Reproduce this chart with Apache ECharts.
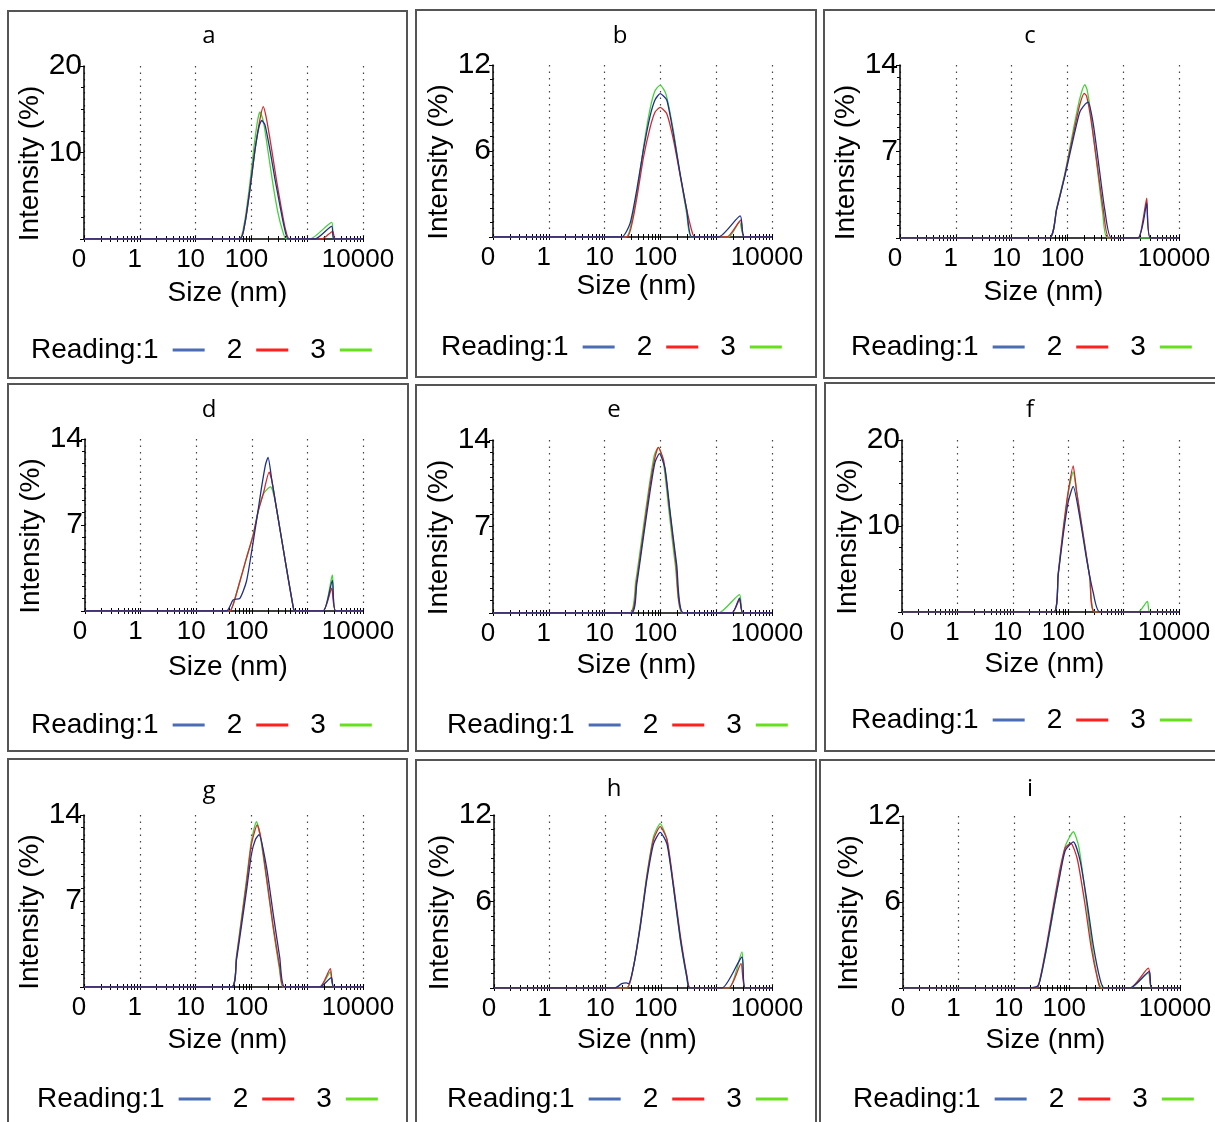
<!DOCTYPE html>
<html><head><meta charset="utf-8">
<script src="https://cdn.jsdelivr.net/npm/echarts@6/dist/echarts.min.js"></script>
<style>html,body{margin:0;padding:0;background:#fff}#c{width:1215px;height:1122px}</style>
</head><body><div id="c"></div><script>
// ---------------- DATA ----------------
const PANEL_TITLES = ['a','b','c','d','e','f','g','h','i'];
const Y_MAX = [20,12,14,14,14,20,14,12,12];
const Y_MINOR_SPLIT = [4,6,7,7,7,4,7,6,6];
const X_TICK_LABELS = ['0','1','10','100','','10000'];   // at 0.1, 1, 10, 100, 1000, 10000 nm
const X_TICKS = [0.1,0.2,0.3,0.4,0.5,0.6,0.7,0.8,0.9,1,2,3,4,5,6,7,8,9,10,20,30,40,50,60,70,80,90,100,
  200,300,400,500,600,700,800,900,1000,2000,3000,4000,5000,6000,7000,8000,9000,10000];
const READINGS = ['1','2','3'];

const A_R1 = [[0.1,0],[62,0],[77,1.9],[94,5.7],[116,10.3],[137,13.0],[153,13.7],[175,13.2],[215,10.3],[265,6.9],[326,3.8],[384,1.5],[460,0],[1380,0],[2750,1.47],[3020,0],[10000,0]];
const A_R2 = [[0.1,0],[62,0],[77,1.9],[94,5.7],[116,10.3],[140,13.6],[163,15.3],[185,14.0],[225,10.8],[280,6.9],[345,3.5],[405,1.2],[480,0],[1820,0],[2870,0.89],[3150,0],[10000,0]];
const A_R3 = [[0.1,0],[60,0],[75,1.9],[92,6.0],[113,11.0],[130,13.8],[143,14.7],[165,13.5],[200,10.0],[245,6.2],[300,3.0],[360,1.0],[420,0],[1120,0],[2750,1.93],[3020,0],[10000,0]];

const B_R1 = [[0.1,0],[20,0],[28.5,0.93],[37.6,3.26],[49.5,6.06],[65,8.4],[80,9.56],[99,10.0],[130,9.56],[171,7.2],[226,4.4],[297,1.86],[366,0],[1100,0],[2700,1.47],[3180,0],[10000,0]];
const B_R2 = [[0.1,0],[24.8,0],[32,1.2],[40,3.3],[50,5.6],[65,7.6],[80,8.7],[99,9.04],[130,8.6],[171,6.8],[226,4.3],[297,1.9],[380,0.2],[420,0],[1556,0],[2750,1.17],[3180,0],[10000,0]];
const B_R3 = [[0.1,0],[24,0],[32,1.5],[40,3.6],[50,6.3],[65,8.9],[80,10.2],[99,10.6],[125,10.0],[171,7.4],[226,4.3],[297,1.6],[360,0],[1667,0],[2620,1.05],[3180,0],[10000,0]];

const C_R1 = [[0.1,0],[47,0],[64,2.3],[90,5.0],[136,8.6],[167,10.2],[205,10.8],[235,11.0],[289,9.3],[380,5.3],[467,2.3],[615,0],[1845,0],[2270,1.2],[2640,2.83],[3070,0],[10000,0]];
const C_R2 = [[0.1,0],[47,0],[64,2.3],[90,5.1],[136,9.0],[167,10.8],[200,11.7],[220,11.5],[260,9.8],[340,6.0],[440,2.3],[560,0],[1845,0],[2270,1.5],[2640,3.23],[3070,0],[10000,0]];
const C_R3 = [[0.1,0],[47,0],[64,2.4],[90,5.2],[136,9.4],[167,11.3],[205,12.4],[225,12.0],[260,10.2],[340,5.8],[430,2.0],[530,0],[10000,0]];

const D_R1 = [[0.1,0],[35,0],[46,0.9],[61,1.03],[80,2.4],[99,4.8],[121,7.3],[149,10.0],[176,11.9],[196,12.5],[230,10.6],[277,8.4],[392,4.3],[553,0.4],[592,0],[1910,0],[2810,2.5],[3230,0],[10000,0]];
const D_R2 = [[0.1,0],[40,0],[46,0.5],[61,2.4],[80,4.3],[106,6.2],[130,8.1],[160,9.5],[205,11.3],[230,10.6],[277,8.4],[392,4.3],[553,0.35],[592,0],[1910,0],[2735,1.85],[3230,0],[10000,0]];
const D_R3 = [[0.1,0],[40,0],[46,0.5],[61,2.4],[80,4.3],[106,6.2],[130,8.1],[160,9.5],[216,10.1],[240,9.7],[277,8.4],[392,4.3],[553,0.35],[592,0],[1910,0],[2810,2.93],[3230,0],[10000,0]];

const E_R1 = [[0.1,0],[30,0],[37.6,2.3],[49.5,6.1],[65,9.8],[80,12.2],[96,12.9],[121,11.7],[149,8.2],[196,3.9],[259,0],[1910,0],[2620,1.21],[3015,0],[10000,0]];
const E_R2 = [[0.1,0],[29,0],[37,2.4],[49,6.3],[64,10.1],[80,12.6],[92,13.4],[115,12.3],[145,8.5],[190,4.0],[255,0],[1910,0],[2620,1.08],[3015,0],[10000,0]];
const E_R3 = [[0.1,0],[28,0],[36,2.5],[48,6.5],[63,10.3],[78,12.8],[92,13.4],[113,12.2],[142,8.3],[186,3.8],[250,0],[1100,0],[2620,1.48],[3015,0],[10000,0]];

const F_R1 = [[0.1,0],[55,0],[66,4.3],[81,8.9],[100,12.8],[123,14.6],[163,10.9],[214,6.2],[282,2.3],[372,0],[10000,0]];
const F_R2 = [[0.1,0],[55,0],[66,4.5],[81,9.6],[100,14.0],[123,17.0],[142,14.0],[187,8.9],[246,3.9],[303,0],[10000,0]];
const F_R3 = [[0.1,0],[55,0],[66,4.4],[81,9.3],[100,13.8],[123,16.3],[142,14.0],[187,8.9],[246,3.9],[303,0],[1830,0],[2690,1.24],[2965,0],[10000,0]];

const G_R1 = [[0.1,0],[44,0],[54,2.2],[66,4.9],[82,7.9],[100,10.8],[118,12.0],[137,12.4],[186,9.8],[245,6.0],[322,2.4],[396,0],[1675,0],[2710,0.76],[2985,0],[10000,0]];
const G_R2 = [[0.1,0],[44,0],[54,2.4],[66,5.3],[82,8.5],[100,11.6],[127,13.2],[150,12.0],[186,9.0],[245,5.0],[322,1.6],[380,0],[1675,0],[2600,1.5],[2985,0],[10000,0]];
const G_R3 = [[0.1,0],[44,0],[54,2.5],[66,5.5],[82,8.8],[100,11.9],[123,13.45],[145,12.2],[186,8.8],[245,4.8],[322,1.3],[370,0],[1675,0],[2600,1.22],[2985,0],[10000,0]];

const H_R1 = [[0.1,0],[15,0],[19.9,0.3],[24,0.35],[26.2,0.3],[32.3,1.46],[42.6,4.2],[56,7.5],[74,10.0],[97.5,10.8],[129,10.0],[169,7.0],[223,3.5],[294,0.76],[329,0],[1259,0],[2885,2.15],[3310,0],[10000,0]];
const H_R2 = [[0.1,0],[24,0],[32.3,1.5],[42.6,4.3],[56,7.7],[74,10.3],[97.5,11.2],[129,10.3],[169,7.2],[223,3.7],[294,0.9],[340,0],[1660,0],[2770,1.69],[3310,0],[10000,0]];
const H_R3 = [[0.1,0],[24,0],[32.3,1.5],[42.6,4.4],[56,7.8],[74,10.5],[97.5,11.4],[129,10.3],[169,7.0],[223,3.4],[294,0.7],[329,0],[1660,0],[2885,2.5],[3310,0],[10000,0]];

const I_R1 = [[0.1,0],[15,0],[26,0.1],[30,0.6],[39.5,2.9],[52,5.5],[69,8.0],[85,9.6],[119,10.2],[157,8.9],[208,6.1],[274,2.9],[361,0.6],[427,0],[1256,0],[2800,1.16],[3085,0],[10000,0]];
const I_R2 = [[0.1,0],[26,0],[30,0.7],[39.5,3.1],[52,5.8],[69,8.4],[85,9.8],[107,10.1],[140,9.0],[190,6.0],[250,2.8],[330,0.5],[370,0],[1256,0],[2690,1.39],[3085,0],[10000,0]];
const I_R3 = [[0.1,0],[26,0],[30,0.6],[39.5,2.8],[52,5.4],[69,8.1],[85,9.9],[119,10.9],[150,9.8],[200,6.3],[265,2.6],[340,0.4],[387,0],[1256,0],[2690,1.04],[3085,0],[10000,0]];

const PANEL_DATA = [
  [A_R1,A_R2,A_R3],[B_R1,B_R2,B_R3],[C_R1,C_R2,C_R3],
  [D_R1,D_R2,D_R3],[E_R1,E_R2,E_R3],[F_R1,F_R2,F_R3],
  [G_R1,G_R2,G_R3],[H_R1,H_R2,H_R3],[I_R1,I_R2,I_R3]
];

// ---------------- LAYOUT / STYLE ----------------
const FONT = '"Liberation Sans", Arial, sans-serif';
const LINE_COLORS = ['#1f2f8a','#cf2a2e','#45d23a'];
const LEGEND_COLORS = ['#4a6db5','#ff2020','#66e01c'];
// panel frames [x, y, w, h]
const FRAMES = [[8,11,399,367],[416,10,400,367],[824,10,420,368],
                [8,384,400,367],[416,385,400,366],[825,383,420,368],
                [8,759,399,400],[416,760,400,400],[820,760,420,400]];
// plot area [left, top, right, bottom] in page px
const PLOTS = [[84,66,363,239],[493,65,772,237],[900,65,1179,238],
               [85,439,363,611],[493,440,772,613],[902,440,1179,612],
               [84,815,363,987],[494,815,772,988],[903,816,1180,988]];
const TITLE_POS = [[209,36],[620,36],[1030,36],[209,410],[614,410],[1030,410],[209,791],[614,789],[1030,789]];
const LEGEND_POS = [[26,348],[436,345],[846,345],[26,723],[442,723],[846,718],[32,1097],[442,1097],[848,1097]];
const XNAME_GAP = [40,35,40,42,38,38,39,38,38];

const W = 1215, H = 1122;
const grids = [], xAxes = [], yAxes = [], series = [], legends = [], graphics = [];

PLOTS.forEach((p, g) => {
  grids.push({left: p[0], top: p[1], width: p[2]-p[0], height: p[3]-p[1], containLabel: false});
  // main log axis (data)
  xAxes.push({
    type: 'log', logBase: 10, gridIndex: g, min: 0.1, max: 10000, splitNumber: 5,
    name: 'Size (nm)', nameLocation: 'middle', nameGap: XNAME_GAP[g],
    nameTextStyle: {fontSize: 28, color: '#000', fontFamily: FONT, padding: [0,0,0,8]},
    axisLine: {show: true, onZero: false, lineStyle: {color: '#000', width: 1.5}},
    axisTick: {show: false},
    axisLabel: {show: true, fontSize: 26, color: '#000', fontFamily: FONT, margin: 8, padding: [0,10,0,0],
      formatter: v => X_TICK_LABELS[Math.round(Math.log10(v)) + 1] || ''},
    splitLine: {show: true, lineStyle: {color: '#444', width: 1.2, type: [1.5, 5]}}
  });
  // tick marks (inside / outside) on a log10 companion axis
  [true, false].forEach(inside => {
    xAxes.push({
      type: 'value', gridIndex: g, min: -1, max: 4, position: 'bottom',
      axisLine: {show: false, onZero: false}, axisLabel: {show: false}, splitLine: {show: false},
      axisTick: {show: true, inside: inside, length: 3, customValues: X_TICKS.map(v => Math.log10(v)),
                 lineStyle: {color: '#000', width: 1}}
    });
  });
  yAxes.push({
    type: 'value', gridIndex: g, min: 0, max: Y_MAX[g], interval: Y_MAX[g] / 2, position: 'left',
    name: 'Intensity (%)', nameLocation: 'middle', nameGap: 37,
    nameTextStyle: {fontSize: 28, color: '#000', fontFamily: FONT, padding: [0,22,0,0]},
    axisLine: {show: true, onZero: false, lineStyle: {color: '#000', width: 1.5}},
    axisTick: {show: true, length: 4, lineStyle: {color: '#000', width: 1}},
    minorTick: {show: true, splitNumber: Y_MINOR_SPLIT[g], length: 3, lineStyle: {color: '#000', width: 1}},
    splitLine: {show: false},
    axisLabel: {fontSize: 30, color: '#000', fontFamily: FONT, margin: 2,
      formatter: v => v === 0 ? '' : String(v)}
  });
  // series (reading 3 first, reading 1 on top)
  [2,1,0].forEach(r => {
    series.push({
      type: 'line', name: READINGS[r], xAxisIndex: 3*g, yAxisIndex: g,
      data: PANEL_DATA[g][r], showSymbol: false, smooth: 0.2,
      lineStyle: {color: LINE_COLORS[r], width: 1.3}, itemStyle: {color: LINE_COLORS[r]},
      z: 3 + (2 - r), silent: true
    });
  });
  legends.push({
    left: LEGEND_POS[g][0], top: LEGEND_POS[g][1] - 17, orient: 'horizontal', align: 'right',
    icon: 'rect', itemWidth: 32, itemHeight: 3, itemGap: 22, selectedMode: false,
    data: READINGS.map((n, i) => ({name: n, itemStyle: {color: LEGEND_COLORS[i]}})),
    formatter: n => n === '1' ? 'Reading:1' : n,
    textStyle: {fontSize: 28, color: '#000', fontFamily: FONT, padding: [0,9,0,0]}
  });
  const f = FRAMES[g];
  graphics.push({type: 'rect', shape: {x: f[0], y: f[1], width: f[2], height: f[3]},
    style: {fill: 'none', stroke: '#555', lineWidth: 2}, z: -10, silent: true});
  graphics.push({type: 'text', x: TITLE_POS[g][0], y: TITLE_POS[g][1],
    style: {text: PANEL_TITLES[g], font: '24px "Open Sans", sans-serif', fill: '#000',
            align: 'center', verticalAlign: 'middle'}, silent: true});
});

const chart = echarts.init(document.getElementById('c'), null, {renderer: 'canvas', width: W, height: H});
chart.setOption({
  animation: false,
  backgroundColor: '#fff',
  grid: grids, xAxis: xAxes, yAxis: yAxes, series: series, legend: legends,
  graphic: graphics
});
</script></body></html>
